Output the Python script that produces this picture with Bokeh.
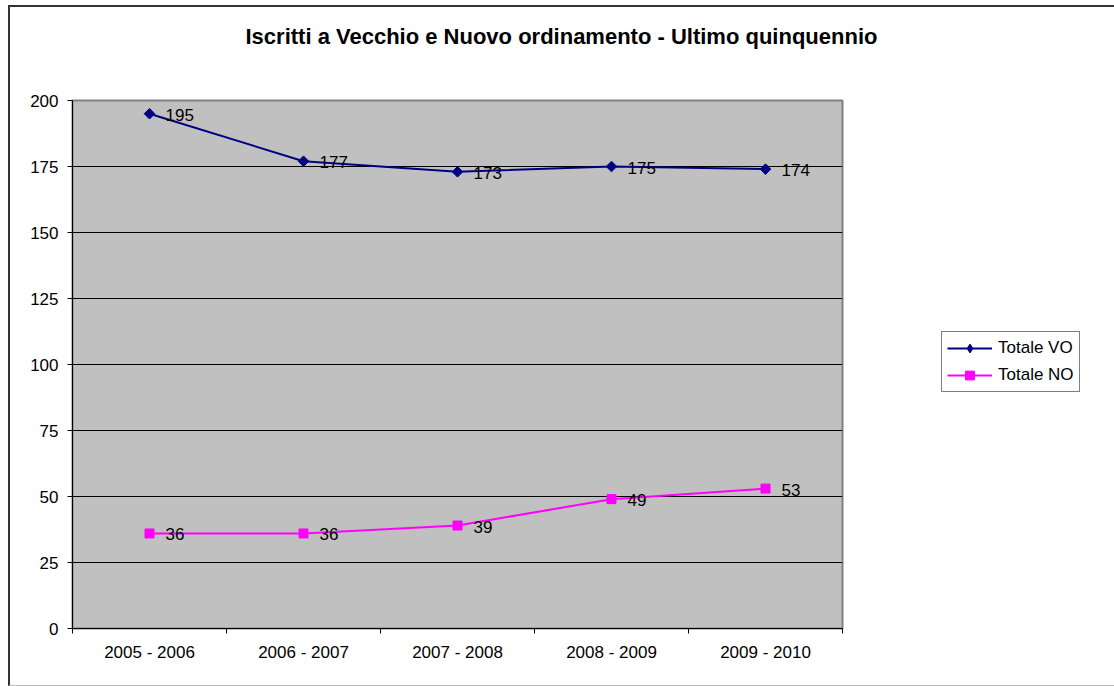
from bokeh.plotting import figure
from bokeh.models import (Range1d, FixedTicker, Legend, LegendItem, ColumnDataSource, Title)
from bokeh.core.properties import value
from bokeh.embed import file_html
from bokeh.resources import INLINE

title_text = "Iscritti a Vecchio e Nuovo ordinamento - Ultimo quinquennio"
categories = ["2005 - 2006", "2006 - 2007", "2007 - 2008", "2008 - 2009", "2009 - 2010"]
totale_vo = [195, 177, 173, 175, 174]
totale_no = [36, 36, 39, 49, 53]
y_ticks = [0, 25, 50, 75, 100, 125, 150, 175, 200]

xs = list(range(len(categories)))
FONT = "Liberation Sans"

p = figure(frame_width=770, frame_height=528, output_backend="svg", toolbar_location=None,
           x_range=Range1d(-0.5, len(categories) - 0.5), y_range=Range1d(0, 200),
           min_border_left=62, min_border_right=268, min_border_top=93, min_border_bottom=57,
           styles={"margin-left": "8px", "margin-top": "5px",
                   "border-left": "2px solid #333", "border-top": "2px solid #333",
                   "border-bottom": "1px solid #bbb"})
p.background_fill_color = "#C0C0C0"
p.border_fill_color = "white"
p.outline_line_color = "#808080"
p.outline_line_width = 2

# spacer between title and plot area
p.add_layout(Title(text=" ", text_font_size="1px", standoff=49), "above")

p.title.text = title_text
p.title.text_font = FONT
p.title.text_font_size = "22px"
p.title.text_font_style = "bold"
p.title.text_color = "black"
p.title.align = "left"
p.title.offset = 173
p.title.standoff = 0

# y axis
p.yaxis.ticker = FixedTicker(ticks=y_ticks)
p.yaxis.axis_line_color = "black"
p.yaxis.major_tick_line_color = "black"
p.yaxis.major_tick_out = 5
p.yaxis.major_tick_in = 0
p.yaxis.minor_tick_line_color = None
p.yaxis.major_label_text_font = FONT
p.yaxis.major_label_text_font_size = "17px"
p.yaxis.major_label_text_color = "black"
p.yaxis.major_label_standoff = 9

# x axis: labels at centers, ticks at boundaries
p.xaxis.ticker = FixedTicker(ticks=xs, minor_ticks=[i - 0.5 for i in range(len(categories) + 1)])
p.xaxis.major_label_overrides = {i: c for i, c in enumerate(categories)}
p.xaxis.axis_line_color = "black"
p.xaxis.major_tick_out = 0
p.xaxis.major_tick_in = 0
p.xaxis.minor_tick_out = 5
p.xaxis.minor_tick_in = 0
p.xaxis.minor_tick_line_color = "black"
p.xaxis.major_label_text_font = FONT
p.xaxis.major_label_text_font_size = "17px"
p.xaxis.major_label_text_color = "black"
p.xaxis.major_label_standoff = 9

p.xgrid.grid_line_color = None
p.ygrid.ticker = FixedTicker(ticks=y_ticks[1:-1])
p.ygrid.grid_line_color = "black"
p.ygrid.grid_line_width = 1

src = ColumnDataSource(dict(x=xs, vo=totale_vo, no=totale_no,
                            vo_t=[str(v) for v in totale_vo], no_t=[str(v) for v in totale_no]))

l1 = p.line("x", "vo", source=src, line_color="#000080", line_width=2)
m1 = p.scatter("x", "vo", source=src, marker="square", angle=0.7854, size=7.5,
               fill_color="#000080", line_color="#000080")
l2 = p.line("x", "no", source=src, line_color="#FF00FF", line_width=2)
m2 = p.scatter("x", "no", source=src, marker="square", size=9,
               fill_color="#FF00FF", line_color="#FF00FF")
# legend-only diamond glyph (hidden in the plot)
leg_vo = p.scatter("x", "vo", source=src, marker="diamond", size=12,
                   fill_color="#000080", line_color="#000080", visible=False)

p.text("x", "vo", text="vo_t", source=src, x_offset=16, y_offset=1, text_baseline="middle",
       text_font=value(FONT), text_font_size="17px", text_color="black")
p.text("x", "no", text="no_t", source=src, x_offset=16, y_offset=1, text_baseline="middle",
       text_font=value(FONT), text_font_size="17px", text_color="black")

legend = Legend(items=[LegendItem(label="Totale VO", renderers=[l1, leg_vo]),
                       LegendItem(label="Totale NO", renderers=[l2, m2])],
                location=(99, 236), orientation="vertical")
legend.label_text_font = FONT
legend.label_text_font_size = "17px"
legend.label_text_color = "black"
legend.border_line_color = "black"
legend.border_line_width = 1
legend.background_fill_color = "white"
legend.background_fill_alpha = 1
legend.inactive_fill_alpha = 0
legend.glyph_width = 45
legend.glyph_height = 22
legend.label_standoff = 6
legend.padding = 5
legend.spacing = 5
legend.margin = 0
p.add_layout(legend, "right")

open("out.html", "w").write(file_html(p, INLINE))
